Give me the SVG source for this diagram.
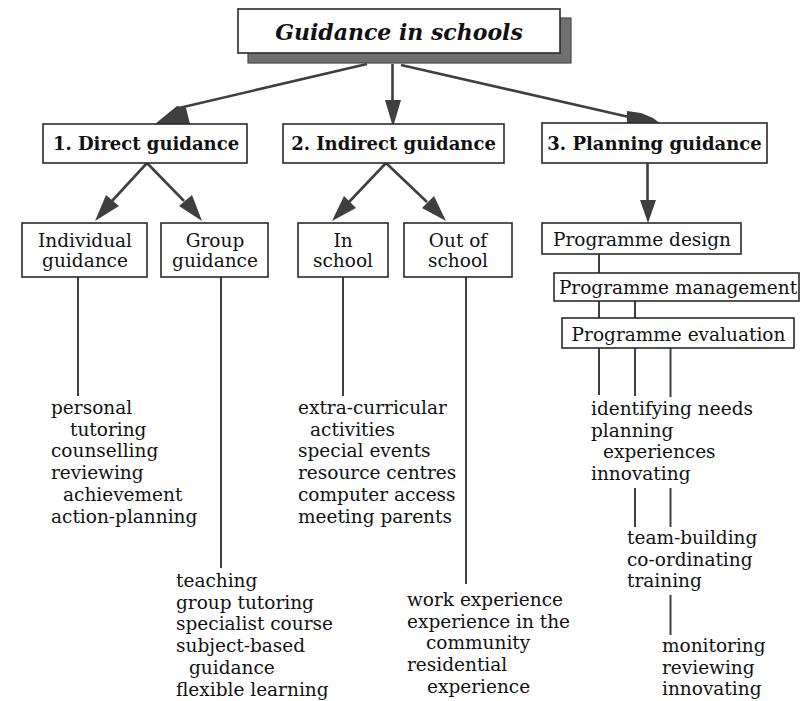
<svg xmlns="http://www.w3.org/2000/svg" width="807" height="701" viewBox="0 0 807 701">
<style>
  .box{fill:#fff;stroke:#2a2a2a;stroke-width:1.6}
  .shadow{fill:#707070;stroke:#4a4a4a;stroke-width:1.2}
  .conn{stroke:#3f3f3f;stroke-width:2.6;fill:none}
  .line{stroke:#3f3f3f;stroke-width:2;fill:none}
  .head{fill:#3f3f3f;stroke:none}
  text{font-family:"DejaVu Serif","Liberation Serif",serif;fill:#111}
  .t{font-size:18.5px}
  .tc{font-size:18.5px;text-anchor:middle}
  .h{font-size:18px;font-weight:bold;text-anchor:middle}
  .title{font-size:22px;font-weight:bold;font-style:italic;text-anchor:middle}
</style>
<rect width="807" height="701" fill="#fff"/>
<g id="connectors">
  <line class="conn" x1="367" y1="64" x2="179" y2="108"/>
  <polygon class="head" points="177,106 186,108 190,124 155,124"/>
  <line class="conn" x1="392.5" y1="64" x2="392.5" y2="101"/>
  <polygon class="head" points="385,100 401,100 393,127"/>
  <line class="conn" x1="401" y1="65" x2="629" y2="117"/>
  <polygon class="head" points="627,111 641,113 653,118 661,124 627,124"/>
  <line class="conn" x1="147" y1="163" x2="112" y2="201"/>
  <polygon class="head" points="95,221 106,195 119,206"/>
  <line class="conn" x1="147" y1="163" x2="184" y2="201"/>
  <polygon class="head" points="202,221 179,206 192,195"/>
  <line class="conn" x1="386" y1="163" x2="349" y2="202"/>
  <polygon class="head" points="332,221 344,196 356,208"/>
  <line class="conn" x1="386" y1="163" x2="427" y2="202"/>
  <polygon class="head" points="446,221 422,208 434,196"/>
  <line class="conn" x1="647.5" y1="163" x2="647.5" y2="201"/>
  <polygon class="head" points="640,200 656,200 648,223"/>
  <line class="line" x1="78" y1="277" x2="78" y2="396"/>
  <line class="line" x1="221" y1="277" x2="221" y2="568"/>
  <line class="line" x1="343" y1="277" x2="343" y2="396"/>
  <line class="line" x1="466" y1="277" x2="466" y2="584"/>
  <line class="line" x1="599" y1="254" x2="599" y2="273"/>
  <line class="line" x1="599" y1="301" x2="599" y2="318"/>
  <line class="line" x1="635" y1="301" x2="635" y2="318"/>
  <line class="line" x1="599" y1="348" x2="599" y2="395"/>
  <line class="line" x1="635" y1="348" x2="635" y2="396"/>
  <line class="line" x1="670.5" y1="348" x2="670.5" y2="397"/>
  <line class="line" x1="635" y1="488" x2="635" y2="527"/>
  <line class="line" x1="670.5" y1="488" x2="670.5" y2="527"/>
  <line class="line" x1="670.5" y1="595" x2="670.5" y2="635"/>
</g>
<g id="title">
  <rect class="shadow" x="248" y="18" width="323" height="45"/>
  <rect class="box" x="238" y="9" width="322" height="44"/>
  <text class="title" x="399" y="40">Guidance in schools</text>
</g>
<g id="direct">
  <rect class="box" x="43" y="124" width="204" height="39"/>
  <text class="h" x="146" y="150">1. Direct guidance</text>
</g>
<g id="indirect">
  <rect class="box" x="283" y="124" width="221" height="39"/>
  <text class="h" x="393.5" y="150">2. Indirect guidance</text>
</g>
<g id="planning">
  <rect class="box" x="542" y="123" width="225" height="40"/>
  <text class="h" x="654.5" y="150">3. Planning guidance</text>
</g>
<g id="individual">
  <rect class="box" x="22" y="223" width="125" height="54"/>
  <text class="tc" x="85" y="247">Individual<tspan x="85" y="267">guidance</tspan></text>
</g>
<g id="group">
  <rect class="box" x="161" y="223" width="107" height="54"/>
  <text class="tc" x="215" y="247">Group<tspan x="215" y="267">guidance</tspan></text>
</g>
<g id="inschool">
  <rect class="box" x="298" y="223" width="90" height="54"/>
  <text class="tc" x="343" y="247">In<tspan x="343" y="267">school</tspan></text>
</g>
<g id="outschool">
  <rect class="box" x="404" y="223" width="108" height="54"/>
  <text class="tc" x="458" y="247">Out of<tspan x="458" y="267">school</tspan></text>
</g>
<g id="design">
  <rect class="box" x="542" y="223" width="199" height="31"/>
  <text class="tc" x="642" y="246">Programme design</text>
</g>
<g id="management">
  <rect class="box" x="554" y="273" width="245" height="28"/>
  <text class="tc" x="678" y="294">Programme management</text>
</g>
<g id="evaluation">
  <rect class="box" x="562" y="318" width="232" height="30"/>
  <text class="tc" x="678.5" y="341">Programme evaluation</text>
</g>
<g id="individual-list">
  <text class="t"><tspan x="51" y="414">personal</tspan><tspan x="70" y="435.7">tutoring</tspan><tspan x="51" y="457.4">counselling</tspan><tspan x="51" y="479.1">reviewing</tspan><tspan x="63" y="500.8">achievement</tspan><tspan x="51" y="522.5">action-planning</tspan></text>
</g>
<g id="group-list">
  <text class="t"><tspan x="176" y="587">teaching</tspan><tspan x="176" y="608.7">group tutoring</tspan><tspan x="176" y="630.4">specialist course</tspan><tspan x="176" y="652.1">subject-based</tspan><tspan x="189" y="673.8">guidance</tspan><tspan x="176" y="695.5">flexible learning</tspan></text>
</g>
<g id="inschool-list">
  <text class="t"><tspan x="298" y="414">extra-curricular</tspan><tspan x="310" y="435.7">activities</tspan><tspan x="298" y="457.4">special events</tspan><tspan x="298" y="479.1">resource centres</tspan><tspan x="298" y="500.8">computer access</tspan><tspan x="298" y="522.5">meeting parents</tspan></text>
</g>
<g id="outschool-list">
  <text class="t"><tspan x="407" y="606">work experience</tspan><tspan x="407" y="627.7">experience in the</tspan><tspan x="426" y="649.4">community</tspan><tspan x="407" y="671.1">residential</tspan><tspan x="427" y="692.8">experience</tspan></text>
</g>
<g id="evaluation-list">
  <text class="t"><tspan x="591" y="415">identifying needs</tspan><tspan x="591" y="436.7">planning</tspan><tspan x="603" y="458.4">experiences</tspan><tspan x="591" y="480.1">innovating</tspan></text>
</g>
<g id="management-list">
  <text class="t"><tspan x="627" y="544">team-building</tspan><tspan x="627" y="565.7">co-ordinating</tspan><tspan x="627" y="587.4">training</tspan></text>
</g>
<g id="monitoring-list">
  <text class="t"><tspan x="662" y="652">monitoring</tspan><tspan x="662" y="673.7">reviewing</tspan><tspan x="662" y="695.4">innovating</tspan></text>
</g>
</svg>
